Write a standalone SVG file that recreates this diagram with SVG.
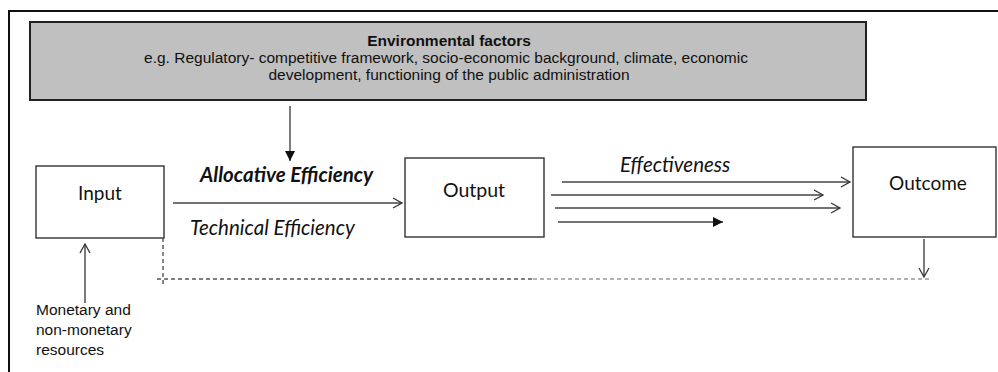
<svg xmlns="http://www.w3.org/2000/svg" width="998" height="372" viewBox="0 0 998 372">
<style>
.box{fill:#fff;stroke:#333;stroke-width:1.4}
.env{fill:#c0c0c0;stroke:#222;stroke-width:2}
.ar{font-family:"Liberation Sans",Arial,sans-serif;fill:#111}
.cal{font-family:Lato,"Open Sans",sans-serif;fill:#111}
.it{font-family:Lato,"Open Sans",sans-serif;fill:#111;font-style:italic;font-size:20.5px}
.ln{fill:none;stroke:#444;stroke-width:1.4}
.dash{fill:none;stroke:#555;stroke-width:1.4;stroke-dasharray:4 3}
.dash2{fill:none;stroke:#999;stroke-width:1.4;stroke-dasharray:4 3}
</style>
<defs>
<marker id="open" markerWidth="12" markerHeight="12" refX="10" refY="6" orient="auto" markerUnits="userSpaceOnUse">
<path d="M1,1 L10,6 L1,11" fill="none" stroke="#333" stroke-width="1.3"/>
</marker>
<marker id="fill" markerWidth="12" markerHeight="12" refX="10" refY="5" orient="auto" markerUnits="userSpaceOnUse">
<path d="M0,0 L10,5 L0,10 Z" fill="#111"/>
</marker>
</defs>
<rect x="0" y="0" width="998" height="372" fill="#fff"/>
<path d="M9,372 V11 H998" fill="none" stroke="#111" stroke-width="2"/>
<g id="env">
<rect class="env" x="30" y="22" width="836" height="78"/>
<text class="ar" x="449" y="46" text-anchor="middle" font-size="15.5" font-weight="bold">Environmental factors</text>
<text class="ar" x="446" y="63" text-anchor="middle" font-size="15.5">e.g. Regulatory- competitive framework, socio-economic background, climate, economic</text>
<text class="ar" x="449" y="80" text-anchor="middle" font-size="15.5">development, functioning of the public administration</text>
</g>
<g id="input">
<rect class="box" x="36" y="166" width="128" height="72"/>
<text class="cal" x="100" y="200" text-anchor="middle" font-size="19">Input</text>
</g>
<g id="output">
<rect class="box" x="405" y="158" width="139" height="79"/>
<text class="cal" x="474" y="197" text-anchor="middle" font-size="19.5">Output</text>
</g>
<g id="outcome">
<rect class="box" x="853" y="147" width="143" height="90"/>
<text class="cal" x="928" y="190" text-anchor="middle" font-size="19">Outcome</text>
</g>
<g id="resources">
<text class="ar" x="36" y="315" font-size="15.5">Monetary and</text>
<text class="ar" x="36" y="335" font-size="15.5">non-monetary</text>
<text class="ar" x="36" y="355" font-size="15.5">resources</text>
</g>
<g id="labels">
<text class="it" x="200" y="182" font-weight="bold">Allocative Efficiency</text>
<text class="it" x="190" y="235">Technical Efficiency</text>
<text class="it" x="620" y="172">Effectiveness</text>
</g>
<g id="connectors">
<line class="ln" x1="290" y1="106" x2="290" y2="161" stroke="#888" marker-end="url(#fill)"/>
<line class="ln" x1="173" y1="203" x2="402" y2="203" marker-end="url(#open)"/>
<line class="ln" x1="562" y1="182" x2="850" y2="182" marker-end="url(#open)"/>
<line class="ln" x1="551" y1="195" x2="823" y2="195" marker-end="url(#open)"/>
<line class="ln" x1="555" y1="208" x2="840" y2="208" marker-end="url(#open)"/>
<line class="ln" x1="558" y1="222" x2="723" y2="222" marker-end="url(#fill)"/>
<line class="ln" x1="924" y1="239" x2="924" y2="277" marker-end="url(#open)"/>
<line class="ln" x1="85" y1="303" x2="85" y2="244" marker-end="url(#open)"/>
<path class="dash" d="M163,238 V285"/>
<path class="dash" d="M157,279 H533"/>
<path class="dash2" d="M533,279 H932"/>
</g>
</svg>
